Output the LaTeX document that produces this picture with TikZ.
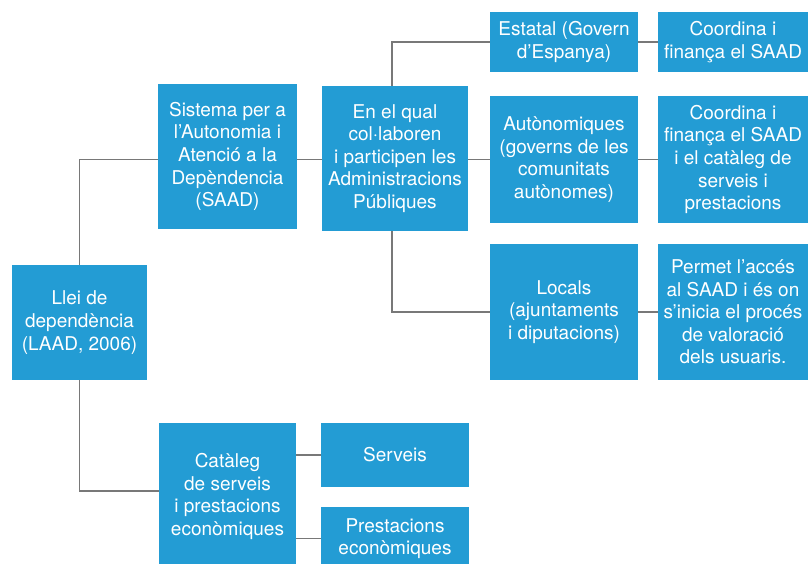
\documentclass[tikz,border=0pt]{standalone}
\usepackage{fontspec}
\setmainfont{TeX Gyre Heros}
\definecolor{boxblue}{RGB}{35,156,212}
\definecolor{linkgray}{RGB}{120,120,120}
\begin{document}
\begin{tikzpicture}[x=1pt,y=-1pt,
  box/.style={fill=boxblue, draw=none, text=white, align=center, inner sep=0pt,
              font=\fontsize{19}{22.6}\selectfont},
  link/.style={draw=linkgray, line width=1.3pt}]
\useasboundingbox (0,0) rectangle (808,564);
\clip (0,0) rectangle (808,564);

% boxes: width and height in px, placed by their centres
\node[box, minimum width=135, minimum height=115] (llei) at (79.5,322.5)
  {Llei de\\dependència\\(LAAD, 2006)};
\node[box, minimum width=139, minimum height=145] (saad) at (227.5,156.5)
  {Sistema per a\\l’Autonomia i\\Atenció a la\\Depèndencia\\(SAAD)};
\node[box, minimum width=146, minimum height=145] (qual) at (395,158.5)
  {En el qual\\col·laboren\\i participen les\\Administracions\\Públiques};
\node[box, minimum width=148, minimum height=60] (estatal) at (564,42)
  {Estatal (Govern\\d'Espanya)};
\node[box, minimum width=150, minimum height=60] (coordA) at (733,42)
  {Coordina i\\finança el SAAD};
\node[box, minimum width=148, minimum height=127] (auton) at (564,159.5)
  {Autònomiques\\(governs de les\\comunitats\\autònomes)};
\node[box, minimum width=150, minimum height=127] (coordB) at (733,159.5)
  {Coordina i\\finança el SAAD\\i el catàleg de\\serveis i\\prestacions};
\node[box, minimum width=148, minimum height=136] (locals) at (564,312)
  {Locals\\(ajuntaments\\i diputacions)};
\node[box, minimum width=150, minimum height=136] (permet) at (733,312)
  {Permet l’accés\\al SAAD i és on\\s’inicia el procés\\de valoració\\dels usuaris.};
\node[box, minimum width=137, minimum height=147] (cat) at (227.5,496.5)
  {Catàleg\\de serveis\\i prestacions\\econòmiques};
\node[box, minimum width=148, minimum height=64] (serveis) at (395,455)
  {Serveis};
\node[box, minimum width=148, minimum height=63] (prest) at (395,538.5)
  {Prestacions\\econòmiques};

% connectors
\draw[link] (llei.north) |- (saad.west |- auton.west);
\draw[link] (saad.east |- auton.west) -- (qual.west |- auton.west);
\draw[link] (qual.east |- auton.west) -- (auton.west);
\draw[link] ([xshift=-3]qual.north) |- (estatal.west);
\draw[link] ([xshift=-3]qual.south) |- (locals.west);
\draw[link] (estatal.east) -- (coordA.west);
\draw[link] (auton.east) -- (coordB.west);
\draw[link] (locals.east) -- (permet.west);
\draw[link] (llei.south) |- ([yshift=5.5]cat.west);
\draw[link] (cat.east |- serveis.west) -- (serveis.west);
\draw[link] (cat.east |- prest.west) -- (prest.west);
\end{tikzpicture}
\end{document}
